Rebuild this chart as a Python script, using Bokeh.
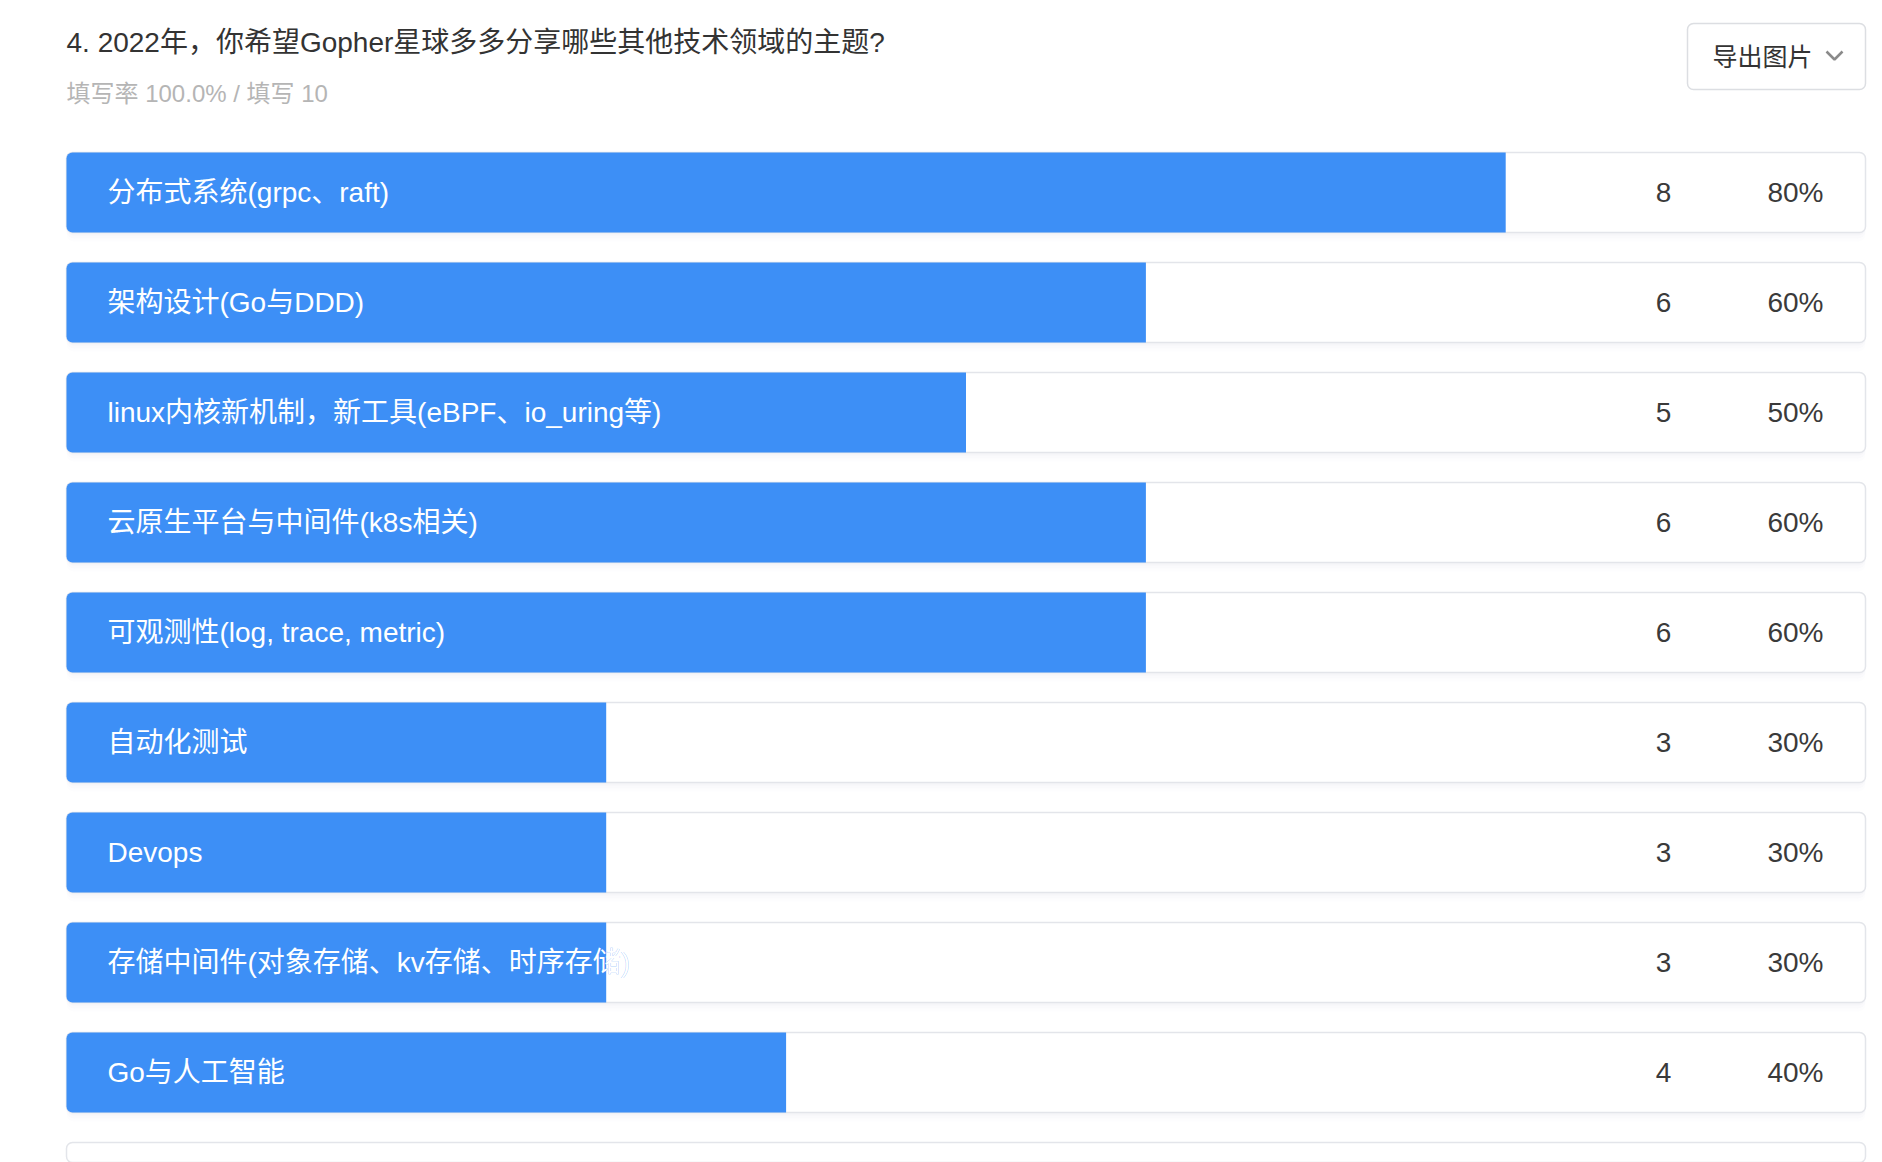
from bokeh.plotting import figure
from bokeh.models import Range1d, Label
from bokeh.core.properties import value
from bokeh.embed import file_html
from bokeh.resources import INLINE

# ---- data ----
labels = [
    "分布式系统(grpc、raft)",
    "架构设计(Go与DDD)",
    "linux内核新机制，新工具(eBPF、io_uring等)",
    "云原生平台与中间件(k8s相关)",
    "可观测性(log, trace, metric)",
    "自动化测试",
    "Devops",
    "存储中间件(对象存储、kv存储、时序存储)",
    "Go与人工智能",
]
counts = [8, 6, 5, 6, 6, 3, 3, 3, 4]
total = 10
title = "4. 2022年，你希望Gopher星球多多分享哪些其他技术领域的主题?"
subtitle = "填写率 100.0% / 填写 10"
button_text = "导出图片"

W, H = 1882, 1162
LEFT, BAR_W = 66, 1799        # bar area in pixels
ROW0, STEP, ROW_H = 192, 110, 80

FONT = "Liberation Sans, Noto Sans CJK SC"
BLUE = "#3D8FF6"

def px(x):
    return (x - LEFT) / BAR_W

def py(y):
    return (y - ROW0) / STEP

p = figure(width=W, height=H, output_backend="svg", toolbar_location=None,
           x_range=Range1d(px(0), px(W)), y_range=Range1d(py(H), py(0)),
           x_axis_type=None, y_axis_type=None, min_border=0,
           outline_line_color=None, background_fill_color="white",
           border_fill_color="white")
p.grid.visible = False

rows = list(range(len(labels)))
frame_rows = rows + [len(labels)]   # next (cut-off) question row frame
fracs = [c / total for c in counts]
pcts = [f"{round(c / total * 100)}%" for c in counts]
hgt = ROW_H / STEP

# soft shadows
for k, a in [(3, 0.025), (6, 0.018), (9, 0.01)]:
    p.hbar(y=[r + k / STEP for r in frame_rows], left=0, right=1, height=hgt,
           fill_color="#5a6a85", fill_alpha=a, line_color=None, border_radius=8)

# containers
p.hbar(y=frame_rows, left=0, right=1, height=hgt, fill_color="white",
       line_color="#E3E5EA", line_width=1.5, border_radius=6)

# label copy in blue (visible only where the text runs past the bar)
p.text(x=0, y=rows, text=labels, x_offset=41, text_baseline="middle",
       text_align="left", text_color=BLUE, text_font=value(FONT),
       text_font_size="28px")

# bars
p.hbar(y=rows, left=0, right=fracs, height=hgt, fill_color=BLUE,
       line_color=None, border_radius=(6, 0, 0, 6))

# labels
p.text(x=0, y=rows, text=labels, x_offset=41, text_baseline="middle",
       text_align="left", text_color="white", text_font=value(FONT),
       text_font_size="28px")

# counts and percents
p.text(x=1, y=rows, text=[str(c) for c in counts], x_offset=-202,
       text_baseline="middle", text_align="center", text_color="#3a3a3a",
       text_font=value(FONT), text_font_size="28px")
p.text(x=1, y=rows, text=pcts, x_offset=-42, text_baseline="middle",
       text_align="right", text_color="#3a3a3a", text_font=value(FONT),
       text_font_size="28px")

# title & subtitle
p.add_layout(Label(x=px(66), y=py(42), text=title, text_baseline="middle",
                   text_align="left", text_font=FONT, text_font_size="28px",
                   text_color="#333333"))
p.add_layout(Label(x=px(66), y=py(93), text=subtitle, text_baseline="middle",
                   text_align="left", text_font=FONT, text_font_size="24px",
                   text_color="#B5B5B5"))

# export button
bx0, bx1, by0, by1 = 1687, 1865, 23, 89
p.quad(left=[px(bx0)], right=[px(bx1)], top=[py(by0)], bottom=[py(by1)],
       fill_color="white", line_color="#DCDEE2", line_width=1.5, border_radius=6)
p.add_layout(Label(x=px(1712), y=py(56), text=button_text, text_baseline="middle",
                   text_align="left", text_font=FONT, text_font_size="25px",
                   text_color="#333333"))
p.line(x=[px(1826), px(1834), px(1842)], y=[py(51), py(59), py(51)],
       line_color="#8a8a8a", line_width=2.5)

open("out.html", "w").write(file_html(p, INLINE))
